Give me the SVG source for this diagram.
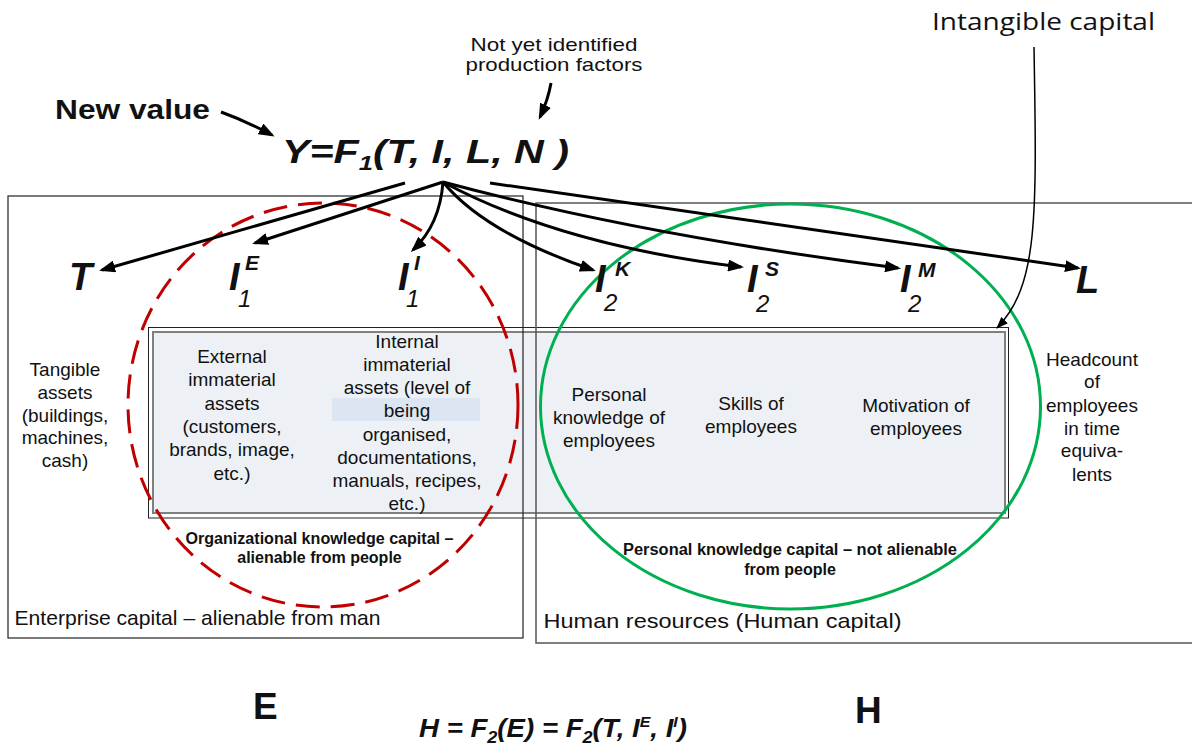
<svg xmlns="http://www.w3.org/2000/svg" width="1192" height="749" viewBox="0 0 1192 749">
<style>
.f{font-family:"Liberation Sans",Arial,Helvetica,sans-serif;fill:#111}
.t{font-size:19px;text-anchor:middle}
.cap{font-size:16px;font-weight:bold;text-anchor:middle}
.big{font-size:38px;font-weight:bold;font-style:italic}
.sup{font-size:21px;font-weight:bold;font-style:italic}
.sub{font-size:24px;font-style:italic;font-weight:normal}
.lbl{font-size:21px}
.conn path{fill:none;stroke:#000;stroke-width:3}
.conn path.thin{stroke-width:1.5}
</style>
<defs>
<marker id="ah" markerUnits="userSpaceOnUse" markerWidth="16" markerHeight="12" refX="13" refY="6" orient="auto"><path d="M0,0 L16,6 L0,12 z" fill="#000"/></marker>
<marker id="ahs" markerUnits="userSpaceOnUse" markerWidth="12" markerHeight="9" refX="11" refY="4.5" orient="auto"><path d="M0,0 L12,4.5 L0,9 z" fill="#000"/></marker>
</defs>
<rect width="1192" height="749" fill="#fff"/>

<g id="assets-band">
<rect x="148.5" y="327.5" width="860" height="190.5" fill="#fff" stroke="#222" stroke-width="1"/>
<rect x="153" y="332" width="852" height="181" fill="#edf1f6" stroke="#808080" stroke-width="2"/>
<rect x="332" y="398" width="148" height="23" fill="#dce6f2"/>
</g>

<g id="enterprise-box">
<rect x="8" y="196" width="515" height="442" fill="none" stroke="#222" stroke-width="1.2"/>
<text class="f lbl" x="14.5" y="625" textLength="366" lengthAdjust="spacingAndGlyphs">Enterprise capital – alienable from man</text>
</g>
<g id="human-box">
<rect x="536" y="203" width="700" height="440" fill="none" stroke="#555" stroke-width="1.5"/>
<text class="f lbl" x="543.5" y="628" textLength="358" lengthAdjust="spacingAndGlyphs">Human resources (Human capital)</text>
</g>

<g id="organizational-circle">
<ellipse cx="323" cy="405" rx="195" ry="202" fill="none" stroke="#c00000" stroke-width="3" stroke-dasharray="24 11"/>
<text class="f cap" x="319.5" y="544" textLength="268" lengthAdjust="spacingAndGlyphs">Organizational knowledge capital –</text>
<text class="f cap" x="319.5" y="563">alienable from people</text>
</g>
<g id="personal-circle">
<ellipse cx="790.5" cy="406.5" rx="250" ry="202.5" fill="none" stroke="#00b050" stroke-width="3"/>
<text class="f cap" x="790" y="555" textLength="334" lengthAdjust="spacingAndGlyphs">Personal knowledge capital – not alienable</text>
<text class="f cap" x="790" y="575">from people</text>
</g>

<g id="formula-Y">
<text class="f" x="282" y="163" font-size="34" font-weight="bold" font-style="italic" textLength="287" lengthAdjust="spacingAndGlyphs">Y=F<tspan font-size="21" dy="7">1</tspan><tspan dy="-7">(T, I, L, N )</tspan></text>
</g>
<g id="new-value">
<text class="f" x="55" y="119" font-size="27" font-weight="bold" textLength="155" lengthAdjust="spacingAndGlyphs">New value</text>
</g>
<g id="not-yet">
<text class="f" x="554" y="51" font-size="18.5" text-anchor="middle" textLength="167" lengthAdjust="spacingAndGlyphs">Not yet identified</text>
<text class="f" x="554" y="71" font-size="18.5" text-anchor="middle" textLength="177" lengthAdjust="spacingAndGlyphs">production factors</text>
</g>
<g id="intangible">
<text x="932" y="30" font-family="'Open Sans','Liberation Sans',sans-serif" font-size="23.5" fill="#111" textLength="223" lengthAdjust="spacingAndGlyphs">Intangible capital</text>
</g>

<g id="node-T">
<text class="f big" x="69" y="290">T</text>
<text class="f t" x="65" y="376">Tangible</text>
<text class="f t" x="65" y="399">assets</text>
<text class="f t" x="65" y="422">(buildings,</text>
<text class="f t" x="65" y="444">machines,</text>
<text class="f t" x="65" y="467">cash)</text>
</g>
<g id="node-I1E">
<text class="f big" x="229" y="290">I<tspan class="sup" x="245" y="270">E</tspan><tspan class="sub" x="238" y="307">1</tspan></text>
<text class="f t" x="232" y="363">External</text>
<text class="f t" x="232" y="386">immaterial</text>
<text class="f t" x="232" y="410">assets</text>
<text class="f t" x="232" y="433">(customers,</text>
<text class="f t" x="232" y="456">brands, image,</text>
<text class="f t" x="232" y="480">etc.)</text>
</g>
<g id="node-I1I">
<text class="f big" x="398" y="290">I<tspan class="sup" x="414" y="270">I</tspan><tspan class="sub" x="406" y="307">1</tspan></text>
<text class="f t" x="407" y="348">Internal</text>
<text class="f t" x="407" y="371">immaterial</text>
<text class="f t" x="407" y="394">assets (level of</text>
<text class="f t" x="407" y="417">being</text>
<text class="f t" x="407" y="441">organised,</text>
<text class="f t" x="407" y="464">documentations,</text>
<text class="f t" x="407" y="487">manuals, recipes,</text>
<text class="f t" x="407" y="510">etc.)</text>
</g>
<g id="node-I2K">
<text class="f big" x="595" y="292">I<tspan class="sup" x="615" y="276">K</tspan><tspan class="sub" x="604" y="311">2</tspan></text>
<text class="f t" x="609" y="401">Personal</text>
<text class="f t" x="609" y="424">knowledge of</text>
<text class="f t" x="609" y="447">employees</text>
</g>
<g id="node-I2S">
<text class="f big" x="747" y="292">I<tspan class="sup" x="765" y="276">S</tspan><tspan class="sub" x="756" y="312">2</tspan></text>
<text class="f t" x="751" y="410">Skills of</text>
<text class="f t" x="751" y="433">employees</text>
</g>
<g id="node-I2M">
<text class="f big" x="900" y="292">I<tspan class="sup" x="918" y="277">M</tspan><tspan class="sub" x="908" y="312">2</tspan></text>
<text class="f t" x="916" y="412">Motivation of</text>
<text class="f t" x="916" y="435">employees</text>
</g>
<g id="node-L">
<text class="f big" x="1076" y="293">L</text>
<text class="f t" x="1092" y="366">Headcount</text>
<text class="f t" x="1092" y="388">of</text>
<text class="f t" x="1092" y="412">employees</text>
<text class="f t" x="1092" y="435">in time</text>
<text class="f t" x="1092" y="457">equiva-</text>
<text class="f t" x="1092" y="481">lents</text>
</g>

<g id="bottom">
<text class="f" x="253" y="719" font-size="37" font-weight="bold">E</text>
<text class="f" x="855" y="723" font-size="37" font-weight="bold">H</text>
<text class="f" x="419" y="737" font-size="26" font-weight="bold" font-style="italic" textLength="268" lengthAdjust="spacingAndGlyphs">H = F<tspan font-size="17" dy="6">2</tspan><tspan dy="-6">(E) = F</tspan><tspan font-size="17" dy="6">2</tspan><tspan dy="-6">(T, I</tspan><tspan font-size="15" dy="-10">E</tspan><tspan dy="10">, I</tspan><tspan font-size="15" dy="-10">I</tspan><tspan dy="10">)</tspan></text>
</g>

<g class="conn" id="connectors">
<path d="M221,112 Q246,121 272,135" marker-end="url(#ah)"/>
<path d="M551,83 Q548,100 540,117" marker-end="url(#ah)"/>
<path d="M405,183 L102,270" marker-end="url(#ah)"/>
<path d="M443,182 L255,243" marker-end="url(#ah)"/>
<path d="M443,182 C441,210 432,232 413,250" marker-end="url(#ah)"/>
<path d="M443,182 C470,215 520,245 593,270" marker-end="url(#ah)"/>
<path d="M443,182 Q560,245 741,267" marker-end="url(#ah)"/>
<path d="M443,182 Q640,235 898,268" marker-end="url(#ah)"/>
<path d="M490,183 L1078,268" marker-end="url(#ah)"/>
<path class="thin" d="M1034,47 C1037,220 1038,285 997,328" marker-end="url(#ahs)"/>
</g>
</svg>
